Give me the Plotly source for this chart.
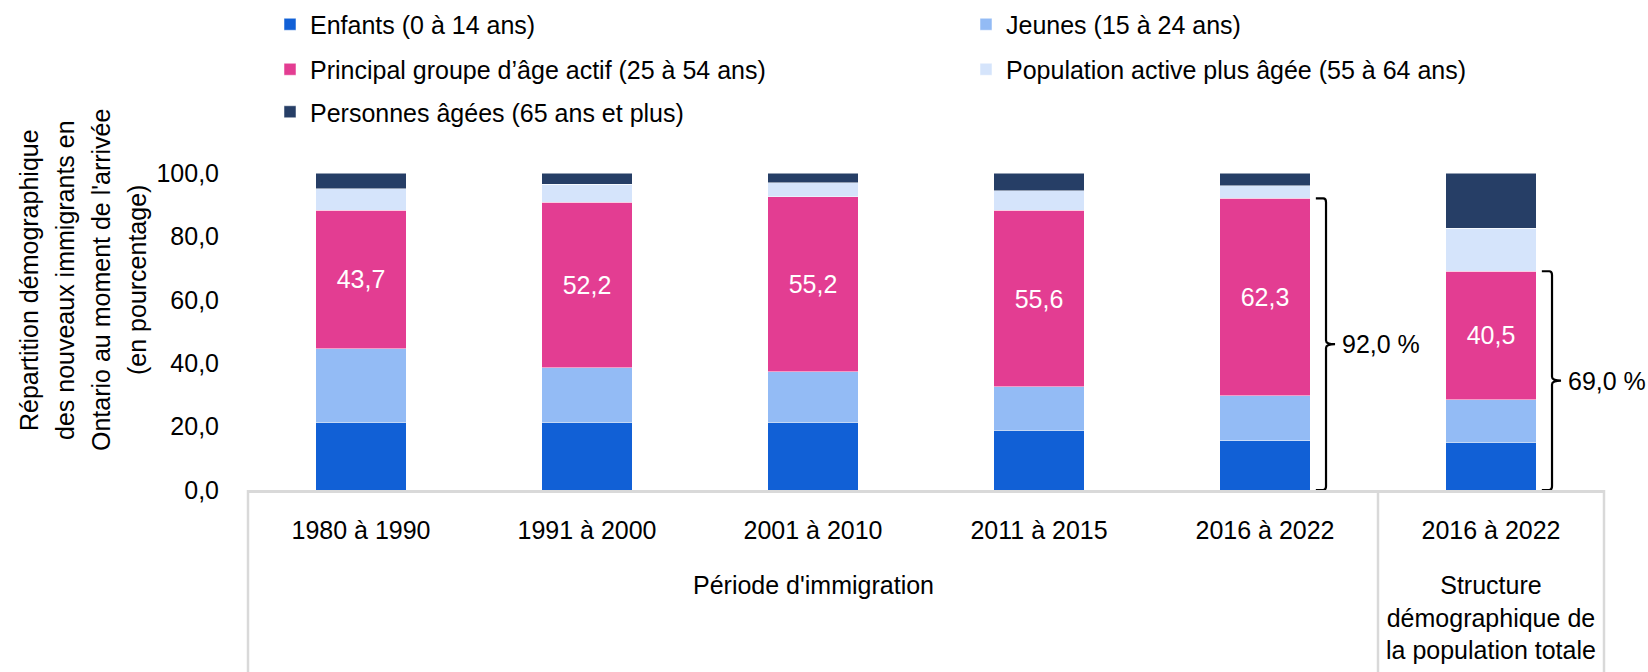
import plotly.graph_objects as go

# ---- data ----
periods = ["1980 à 1990", "1991 à 2000", "2001 à 2010", "2011 à 2015", "2016 à 2022", "2016 à 2022"]
group_labels = ["Période d'immigration", "Structure<br>démographique de<br>la population totale"]
enfants = [21.3, 21.3, 21.3, 18.8, 15.6, 15.0]
jeunes = [23.3, 17.2, 16.0, 13.8, 14.1, 13.5]
principal = [43.7, 52.2, 55.2, 55.6, 62.3, 40.5]
active_agee = [6.7, 5.8, 4.5, 6.2, 4.0, 13.5]
agees = [5.0, 3.5, 3.0, 5.6, 4.0, 17.5]
y_ticks = [0, 20, 40, 60, 80, 100]
y_title_lines = ["Répartition démographique", "des nouveaux immigrants en",
                 "Ontario au moment de l'arrivée", "(en pourcentage)"]

series_names = ["Enfants (0 à 14 ans)", "Jeunes (15 à 24 ans)",
                "Principal groupe d’âge actif (25 à 54 ans)",
                "Population active plus âgée (55 à 64 ans)",
                "Personnes âgées (65 ans et plus)"]
colors = ["#1160D6", "#93BBF5", "#E33D92", "#D5E4FB", "#263E66"]
legend_ids = ["legend", "legend2", "legend3", "legend4", "legend5"]

FONT = "Liberation Sans, Arial, sans-serif"
FS = 25

W, H = 1648, 672
L, R, T, B = 248, 44, 173, 182
plot_w, plot_h = W - L - R, H - T - B

def py(p):  # pixel y -> paper
    return (H - B - p) / plot_h

def px(p):  # pixel x -> paper
    return (p - L) / plot_w

x = list(range(len(periods)))
fig = go.Figure()
for i, (name, vals) in enumerate(zip(series_names, [enfants, jeunes, principal, active_agee, agees])):
    kw = {}
    if i == 2:
        kw = dict(text=vals, texttemplate="%{y:.1f}", textposition="inside",
                  insidetextanchor="middle", textangle=0,
                  textfont=dict(color="white", size=FS, family=FONT), constraintext="none")
    fig.add_trace(go.Bar(x=x, y=vals, name=name, width=0.4,
                         marker=dict(color=colors[i], line=dict(color="rgba(255,255,255,0.5)", width=1)),
                         legend=legend_ids[i], showlegend=True, hoverinfo="skip", **kw))

# legend positions (pixel): (left, center-y)
leg_pos = [(270, 24.5), (966, 24.5), (270, 69.5), (966, 69.5), (270, 112)]
leg_layout = {}
for lid, (lx, ly) in zip(legend_ids, leg_pos):
    leg_layout[lid] = dict(orientation="h", x=px(lx), y=py(ly), xanchor="left", yanchor="middle",
                           font=dict(family=FONT, size=FS, color="#000"), bgcolor="rgba(0,0,0,0)")

shapes = []
annotations = []

def bracket(xi, top):
    x0 = xi + 0.225
    x1 = xi + 0.27
    x2 = xi + 0.31
    mid = top / 2
    r = 0.012
    path = (f"M{x0},{top} L{x1 - r},{top} Q{x1},{top} {x1},{top - 1.2} "
            f"L{x1},{mid + 1.2} Q{x1},{mid} {x2},{mid} Q{x1},{mid} {x1},{mid - 1.2} "
            f"L{x1},{1.2} Q{x1},0 {x1 - r},0 L{x0},0")
    shapes.append(dict(type="path", path=path, xref="x", yref="y",
                       line=dict(color="black", width=2.2), layer="above"))
    annotations.append(dict(x=xi + 0.334, y=mid, xref="x", yref="y", xanchor="left", yanchor="middle",
                            text=(f"{top:.1f}".replace(".", ",")) + " %", showarrow=False,
                            font=dict(family=FONT, size=FS, color="#000")))

for xi in [4, 5]:
    bracket(xi, enfants[xi] + jeunes[xi] + principal[xi])

# category group dividers
bottom = py(H)
for xp in [0, 5 / 6, 1]:
    shapes.append(dict(type="line", xref="paper", yref="paper", x0=xp, x1=xp, y0=0, y1=bottom,
                       line=dict(color="#D9D9D9", width=2.5)))

# group labels
for gx, gl in zip([2, 5], group_labels):
    annotations.append(dict(x=gx, y=py(569), xref="x", yref="paper", xanchor="center", yanchor="top",
                            text=gl, showarrow=False,
                            font=dict(family=FONT, size=FS, color="#000")))

# y title (4 rotated lines)
for line, cx in zip(y_title_lines, [29, 65, 101, 137]):
    annotations.append(dict(x=px(cx), y=py(280), xref="paper", yref="paper",
                            xanchor="center", yanchor="middle", text=line, textangle=-90,
                            showarrow=False, font=dict(family=FONT, size=FS, color="#000")))

fig.update_layout(
    width=W, height=H,
    margin=dict(l=L, r=R, t=T, b=B, autoexpand=False),
    barmode="stack",
    separators=", ",
    showlegend=True,
    plot_bgcolor="white", paper_bgcolor="white",
    font=dict(family=FONT, size=FS, color="#000"),
    shapes=shapes,
    annotations=annotations,
    xaxis=dict(range=[-0.5, 5.5], tickvals=x, ticktext=periods, showgrid=False,
               showline=True, linecolor="#D9D9D9", linewidth=3, ticks="", ticklabelstandoff=16,
               tickfont=dict(family=FONT, size=FS, color="#000"), zeroline=False),
    yaxis=dict(range=[0, 100], tickvals=y_ticks, tickformat=".1f", showgrid=False, zeroline=False,
               showline=False, ticks="", ticklabelstandoff=28,
               tickfont=dict(family=FONT, size=FS, color="#000")),
    **leg_layout,
)

fig.write_html("out.html", config={"displayModeBar": False},
               post_script="document.body.style.margin='0px';")
